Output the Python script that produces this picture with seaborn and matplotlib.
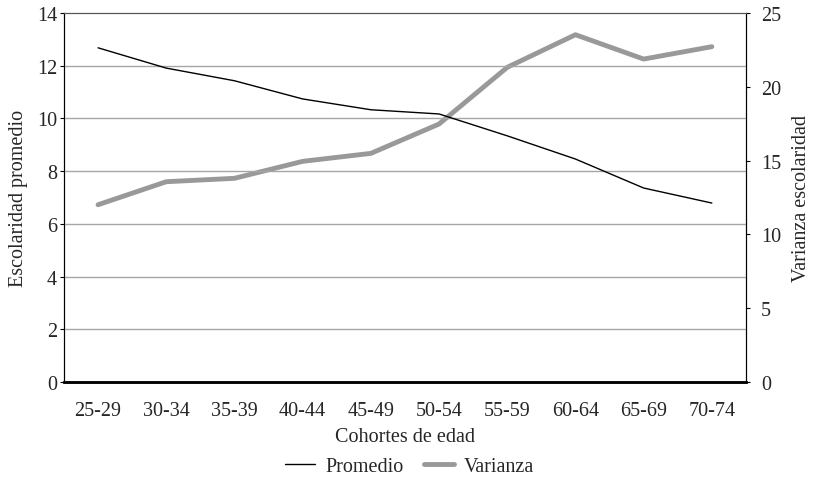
import numpy as np
import pandas as pd
import matplotlib
matplotlib.use("Agg")
import matplotlib.pyplot as plt
import seaborn as sns

# data
cohortes = ['25-29', '30-34', '35-39', '40-44', '45-49',
            '50-54', '55-59', '60-64', '65-69', '70-74']
promedio = [12.68, 11.91, 11.43, 10.74, 10.33, 10.17, 9.34, 8.46, 7.36, 6.79]
varianza = [12.01, 13.57, 13.80, 14.95, 15.49, 17.48, 21.32, 23.53, 21.88, 22.72]

df = pd.DataFrame({'pos': np.arange(len(cohortes)), 'cohorte': cohortes,
                   'promedio': promedio, 'varianza': varianza})

sns.set_style("white")
plt.rcParams['font.family'] = ['Liberation Serif', 'DejaVu Serif']
fs = 14.5

fig = plt.figure(figsize=(8.19, 4.85), dpi=100)
ax = fig.add_axes([0.0781, 0.2103, 0.8327, 0.7608])
ax2 = ax.twinx()

sns.lineplot(data=df, x='pos', y='promedio', ax=ax, color='black',
             linewidth=1.0, label='Promedio', legend=False)
sns.lineplot(data=df, x='pos', y='varianza', ax=ax2, color='#999999',
             linewidth=3.5, label='Varianza', legend=False)

# left axis
ax.set_ylim(0, 14)
ax.set_yticks(np.arange(0, 15, 2))
ax.set_xlim(-0.5, len(cohortes) - 0.5)
for yv in range(2, 14, 2):
    ax.axhline(yv, color='#a6a6a6', linewidth=1.0, zorder=0)
ax.set_ylabel('Escolaridad promedio', fontsize=fs, labelpad=6)
ax.set_xlabel('Cohortes de edad', fontsize=fs, labelpad=5)

# category ticks at boundaries, labels at centers
ax.set_xticks(np.arange(-0.5, len(cohortes), 1.0))
ax.set_xticklabels([])
ax.set_xticks(np.arange(len(cohortes)), minor=True)
ax.set_xticklabels(cohortes, minor=True)
ax.tick_params(axis='x', which='minor', length=0, pad=14, labelsize=fs)
ax.tick_params(axis='x', which='major', length=3, width=0.8, direction='out', color='black')
ax.tick_params(axis='y', length=3, width=0.8, direction='out', labelsize=fs, pad=2, color='black')

# right axis
ax2.set_ylim(0, 25)
ax2.set_yticks(np.arange(0, 26, 5))
ax2.set_ylabel('Varianza escolaridad', fontsize=fs, labelpad=8)
ax2.tick_params(axis='y', length=3, width=0.8, direction='out', labelsize=fs, pad=8, color='black')

for a in (ax, ax2):
    a.spines['left'].set_color('black')
    a.spines['right'].set_color('black')
    a.spines['top'].set_color('#555555')
    a.spines['bottom'].set_color('black')
    a.spines['bottom'].set_linewidth(1.8)
    a.spines['left'].set_linewidth(0.8)
    a.spines['right'].set_linewidth(0.8)
    a.spines['top'].set_linewidth(0.8)
ax.set_zorder(ax2.get_zorder() + 1)
ax.patch.set_visible(False)

h1, l1 = ax.get_legend_handles_labels()
h2, l2 = ax2.get_legend_handles_labels()
fig.legend(h1 + h2, l1 + l2, loc='center', bbox_to_anchor=(0.5, 0.036),
           ncol=2, frameon=False, fontsize=fs, handlelength=1.5,
           handletextpad=0.5, columnspacing=1.0)

fig.savefig('out.png', dpi=100)
